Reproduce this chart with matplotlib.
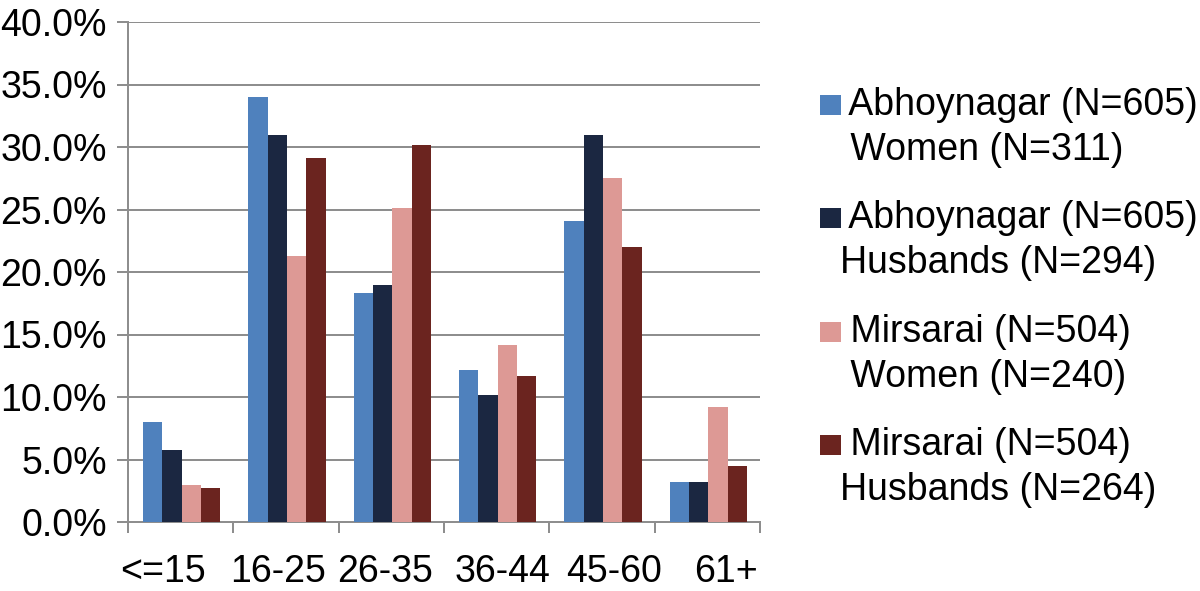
import numpy as np
import matplotlib
matplotlib.use('Agg')
import matplotlib.pyplot as plt
from matplotlib.patches import Rectangle
from matplotlib.ticker import FuncFormatter, FixedLocator
from matplotlib.transforms import ScaledTranslation

plt.rcParams['font.family'] = ['Liberation Sans', 'DejaVu Sans']

# data (percent)
age_groups = ['<=15', '16-25', '26-35', '36-44', '45-60', '61+']
abhoy_women = [8.0, 34.0, 18.3, 12.2, 24.1, 3.2]
abhoy_husbands = [5.8, 31.0, 19.0, 10.2, 31.0, 3.2]
mirs_women = [3.0, 21.3, 25.1, 14.2, 27.5, 9.2]
mirs_husbands = [2.7, 29.1, 30.2, 11.7, 22.0, 4.5]

series_labels = [
    (' Abhoynagar (N=605)', ' Women (N=311)'),
    (' Abhoynagar (N=605)', 'Husbands (N=294)'),
    (' Mirsarai (N=504)', ' Women (N=240)'),
    (' Mirsarai (N=504)', 'Husbands (N=264)'),
]
colors = ['#4F81BD', '#1B2741', '#DD9995', '#6B241F']
series = [abhoy_women, abhoy_husbands, mirs_women, mirs_husbands]

W, H = 1200, 591
fig = plt.figure(figsize=(12, 5.91), dpi=100)
ax = fig.add_axes([128 / W, 1 - 522 / H, (760 - 128) / W, (522 - 22) / H])

fs = 27
grid_c = '#8E8E8E'
px = 72 / 100  # one pixel in points

x = np.arange(len(age_groups))
bw = 0.184
offsets = (np.arange(4) - 1.5) * bw + 0.01
for vals, off, c in zip(series, offsets, colors):
    ax.bar(x + off, vals, width=bw, color=c, zorder=3)

ax.set_xlim(-0.5, len(age_groups) - 0.5)
ax.set_ylim(0, 40)
ax.set_yticks(np.arange(0, 41, 5))
ax.yaxis.set_major_formatter(FuncFormatter(lambda v, p: f'{v:.1f}%'))
ax.grid(axis='y', color=grid_c, linewidth=2 * px, zorder=0)

# category boundaries as ticks, labels at centres
ax.xaxis.set_major_locator(FixedLocator(np.arange(len(age_groups) + 1) - 0.5))
ax.xaxis.set_major_formatter(FuncFormatter(lambda v, p: ''))
ax.set_xticks(x, minor=True)
ax.set_xticklabels(age_groups, minor=True)
ax.tick_params(axis='x', which='minor', length=0, labelsize=fs, pad=32 * px)
ax.tick_params(axis='x', which='major', length=11 * px, width=2 * px, color=grid_c)
ax.tick_params(axis='y', length=11 * px, width=2 * px, color=grid_c,
               labelsize=fs, pad=10 * px)

# the original spreads the category labels a little wider than the axis
shift_px = [-18, -8, -6, 6, 12, 19]
for lab, dx in zip(ax.get_xticklabels(minor=True), shift_px):
    lab.set_transform(lab.get_transform() +
                      ScaledTranslation(dx / 100, 0, fig.dpi_scale_trans))

for s in ['top', 'right']:
    ax.spines[s].set_visible(False)
for s in ['left', 'bottom']:
    ax.spines[s].set_color(grid_c)
    ax.spines[s].set_linewidth(2 * px)

# legend drawn by hand so the square sits on the first line
first_base = 115
entry_step = 113.3
line_step = 45
for i, ((l1, l2), c) in enumerate(zip(series_labels, colors)):
    base = first_base + i * entry_step
    fig.patches.append(Rectangle((820 / W, 1 - base / H), 21 / W, 20 / H,
                                 transform=fig.transFigure, facecolor=c,
                                 edgecolor='none'))
    fig.text(840 / W, 1 - base / H, l1, fontsize=fs, va='baseline', ha='left')
    fig.text(840 / W, 1 - (base + line_step) / H, l2, fontsize=fs,
             va='baseline', ha='left')

plt.savefig('out.png', dpi=100)
